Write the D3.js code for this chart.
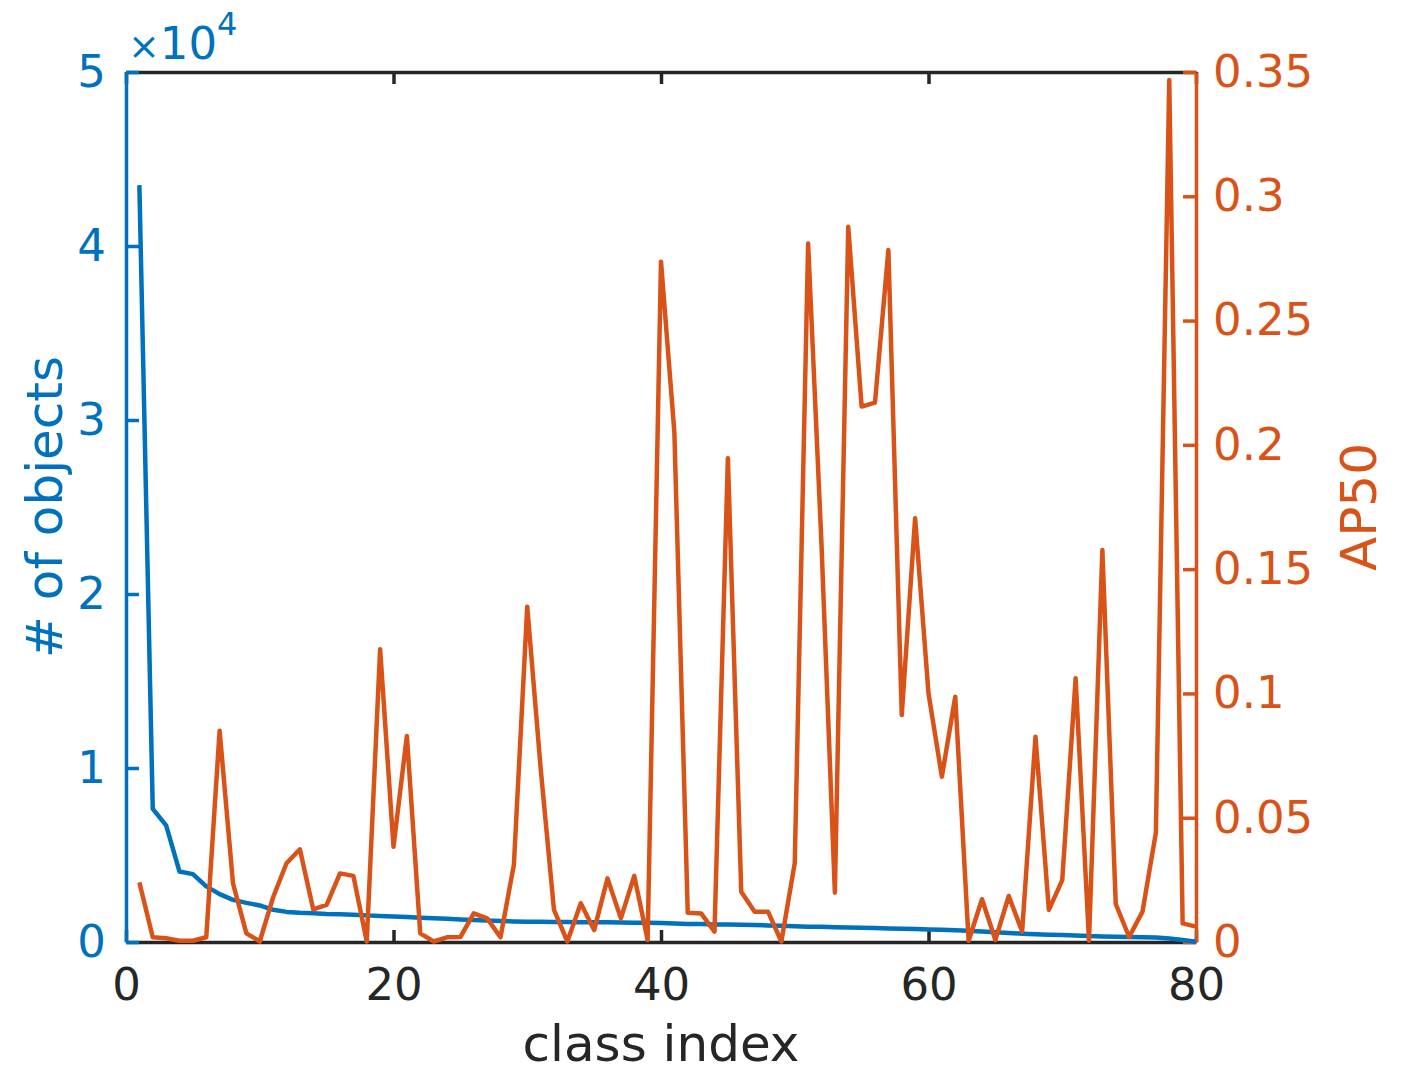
<!DOCTYPE html>
<html>
<head>
<meta charset="utf-8">
<script src="https://cdn.jsdelivr.net/npm/d3@7"></script>
<style>
  body { margin: 0; background: #fff; }
  text { font-family: "DejaVu Sans", sans-serif; }
</style>
</head>
<body>
<div id="chart"></div>
<script>
// class index 1..80 (sorted by number of objects)
var classIndex = d3.range(1, 81);

// # of objects per class
var objectCounts = [
  43500, 7650, 6700, 4050, 3900, 3200, 2750, 2420, 2250, 2100,
  1850, 1730, 1680, 1650, 1610, 1590, 1570, 1530, 1500, 1470,
  1440, 1400, 1370, 1340, 1300, 1270, 1230, 1200, 1180, 1170,
  1160, 1150, 1150, 1140, 1140, 1130, 1120, 1110, 1100, 1090,
  1060, 1040, 1030, 1010, 1000, 990, 970, 950, 930, 900,
  880, 870, 850, 840, 820, 800, 780, 760, 740, 720,
  700, 680, 640, 600, 560, 520, 480, 450, 420, 400,
  380, 340, 320, 300, 290, 280, 260, 200, 110, 20
];

// AP50 per class
var ap50 = [
  0.024, 0.0019, 0.0015, 0.0005, 0.0005, 0.0019, 0.085, 0.0236, 0.0035, 0.0002,
  0.018, 0.0317, 0.0373, 0.0131, 0.0149, 0.0276, 0.0266, 0.0002, 0.1178, 0.0383,
  0.0829, 0.0035, 0.0002, 0.0019, 0.002, 0.0115, 0.0095, 0.0019, 0.031, 0.1349,
  0.07, 0.0129, 0.0002, 0.0156, 0.0048, 0.0256, 0.0095, 0.0266, 0.0008, 0.2737,
  0.205, 0.0118, 0.0115, 0.0042, 0.1946, 0.0202, 0.0122, 0.0122, 0.0002, 0.0317,
  0.281, 0.16, 0.0198, 0.2877, 0.2154, 0.217, 0.2784, 0.0913, 0.1705, 0.1,
  0.0665, 0.0987, 0.0005, 0.0172, 0.0008, 0.0185, 0.0042, 0.0826, 0.0129, 0.0249,
  0.1061, 0.0005, 0.1577, 0.0153, 0.002, 0.0122, 0.044, 0.3468, 0.0075, 0.0062
];

var xTicks = [0, 20, 40, 60, 80];
var leftTicks = [0, 10000, 20000, 30000, 40000, 50000];
var rightTicks = [0, 0.05, 0.1, 0.15, 0.2, 0.25, 0.3, 0.35];

function init() {
    var W = 1409, H = 1072;
    var pLeft = 126, pRight = 1196, pTop = 72, pBottom = 942;
    var blue = "#0072BD", orange = "#D95319", dark = "#262626";

    var svg = d3.select("#chart").append("svg")
        .attr("width", W)
        .attr("height", H);

    svg.append("rect").attr("width", W).attr("height", H).attr("fill", "#fff");

    var x = d3.scaleLinear().domain([0, 80]).range([pLeft, pRight]);
    var yL = d3.scaleLinear().domain([0, 50000]).range([pBottom, pTop]);
    var yR = d3.scaleLinear().domain([0, 0.35]).range([pBottom, pTop]);

    function styleAxis(g, color) {
        g.select(".domain").attr("stroke", color).attr("stroke-width", 3.5);
        g.selectAll(".tick line").attr("stroke", color).attr("stroke-width", 3.5);
        g.selectAll(".tick text").attr("fill", color)
            .style("font-family", "DejaVu Sans, sans-serif")
            .style("font-size", "45px");
    }

    // top and bottom (dark) axes
    var gTop = svg.append("g").attr("transform", "translate(0," + pTop + ")")
        .call(d3.axisTop(x).tickValues(xTicks).tickSizeInner(-12).tickSizeOuter(0).tickFormat(""));
    styleAxis(gTop, dark);

    var gBottom = svg.append("g").attr("transform", "translate(0," + pBottom + ")")
        .call(d3.axisBottom(x).tickValues(xTicks).tickSizeInner(-12).tickSizeOuter(0).tickPadding(26));
    styleAxis(gBottom, dark);

    // left (blue) axis, values in units of 10^4
    var gLeft = svg.append("g").attr("transform", "translate(" + pLeft + ",0)")
        .call(d3.axisLeft(yL).tickValues(leftTicks).tickSizeInner(-13).tickSizeOuter(0).tickPadding(20)
            .tickFormat(function(d) { return d / 10000; }));
    styleAxis(gLeft, blue);

    // right (orange) axis
    var gRight = svg.append("g").attr("transform", "translate(" + pRight + ",0)")
        .call(d3.axisRight(yR).tickValues(rightTicks).tickSizeInner(-13).tickSizeOuter(0).tickPadding(17)
            .tickFormat(function(d) { return d === 0 ? "0" : String(+d.toFixed(2)); }));
    styleAxis(gRight, orange);

    // exponent label
    var expo = svg.append("text")
        .attr("x", 128)
        .attr("y", 59)
        .attr("fill", blue)
        .style("font-size", "45px");
    expo.append("tspan").style("font-size", "38px").text("\u00D7");
    expo.append("tspan").text("10");
    expo.append("tspan").attr("dy", -24).style("font-size", "32px").text("4");

    // lines
    var lineL = d3.line()
        .x(function(d, i) { return x(classIndex[i]); })
        .y(function(d) { return yL(d); });
    var lineR = d3.line()
        .x(function(d, i) { return x(classIndex[i]); })
        .y(function(d) { return yR(d); });

    svg.append("path").datum(objectCounts)
        .attr("d", lineL)
        .attr("fill", "none")
        .attr("stroke", blue)
        .attr("stroke-width", 4.5)
        .attr("stroke-linejoin", "round");

    svg.append("path").datum(ap50)
        .attr("d", lineR)
        .attr("fill", "none")
        .attr("stroke", orange)
        .attr("stroke-width", 4.5)
        .attr("stroke-linejoin", "round");

    // axis labels
    svg.append("text")
        .attr("x", (pLeft + pRight) / 2)
        .attr("y", 1061)
        .attr("text-anchor", "middle")
        .attr("fill", dark)
        .style("font-size", "50px")
        .text("class index");

    svg.append("text")
        .attr("transform", "translate(62," + ((pTop + pBottom) / 2) + ") rotate(-90)")
        .attr("text-anchor", "middle")
        .attr("fill", blue)
        .style("font-size", "50px")
        .text("# of objects");

    svg.append("text")
        .attr("transform", "translate(1376," + ((pTop + pBottom) / 2) + ") rotate(-90)")
        .attr("text-anchor", "middle")
        .attr("fill", orange)
        .style("font-size", "50px")
        .text("AP50");
}
window.onload = init;
</script>
</body>
</html>
